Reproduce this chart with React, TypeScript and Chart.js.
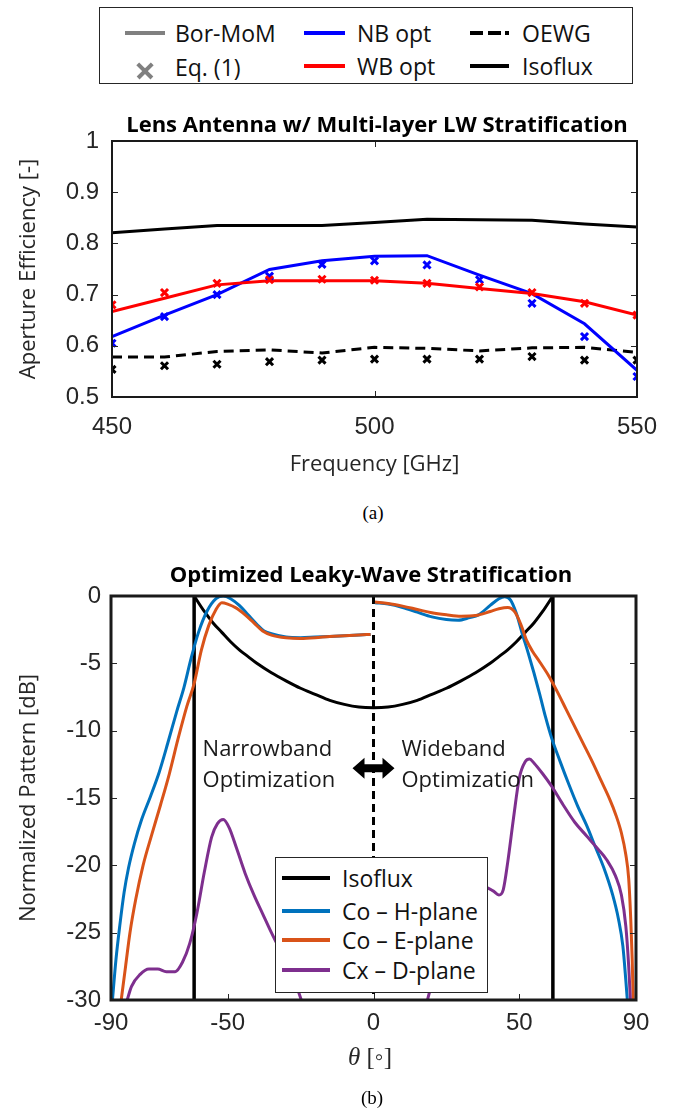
import React, { useEffect, useRef } from "react";
import { Chart, registerables } from "chart.js";

Chart.register(...registerables);

// ---------- (a) Aperture efficiency vs frequency ----------
const freqGHz = [450, 460, 470, 480, 490, 500, 510, 520, 530, 540, 550];
const isofluxEff = [0.821, 0.828, 0.835, 0.835, 0.835, 0.841, 0.847, 0.846, 0.845, 0.838, 0.832];
const oewgEff = [0.578, 0.578, 0.589, 0.592, 0.586, 0.597, 0.595, 0.59, 0.596, 0.597, 0.587];
const oewgEq1 = [0.554, 0.561, 0.564, 0.569, 0.572, 0.574, 0.574, 0.574, 0.579, 0.572, 0.572];
const nbOptEff = [0.618, 0.66, 0.7, 0.749, 0.766, 0.775, 0.776, 0.738, 0.702, 0.643, 0.552];
const nbOptEq1 = [0.605, 0.657, 0.7, 0.736, 0.759, 0.766, 0.758, 0.729, 0.683, 0.618, 0.54];
const wbOptEff = [0.667, 0.693, 0.719, 0.727, 0.727, 0.727, 0.722, 0.712, 0.702, 0.686, 0.66];
const wbOptEq1 = [0.68, 0.704, 0.722, 0.729, 0.73, 0.728, 0.722, 0.715, 0.704, 0.683, 0.66];
const freqTicks = [450, 500, 550];
const effTicks = [0.5, 0.6, 0.7, 0.8, 0.9, 1];

// ---------- (b) Normalized pattern vs theta ----------
const isofluxTheta = [-61.5, -58, -55, -52, -49, -46, -43, -40, -35, -30, -25, -20, -15, -10, -5, 0, 5, 10, 15, 20, 25, 30, 35, 40, 43, 46, 49, 52, 55, 58, 61.5];
const isofluxDb = [0, -1.15, -2.0, -2.7, -3.4, -4.0, -4.5, -5.0, -5.7, -6.3, -6.85, -7.3, -7.75, -8.05, -8.25, -8.3, -8.25, -8.05, -7.75, -7.3, -6.85, -6.3, -5.7, -5.0, -4.5, -4.0, -3.4, -2.7, -2.0, -1.15, 0];
const isofluxEdgeTheta = [-61.5, 61.5];
const centerTheta = [0];

const coHLeftTheta = [-89.5, -88.3, -87, -85.5, -84, -82, -79.5, -76.5, -73.5, -70.5, -67.5, -65, -62.5, -60, -57, -54, -51.5, -49, -46, -43, -40, -37.5, -35, -30, -25, -20, -15, -10, -5, -1];
const coHLeftDb = [-30, -27, -24.5, -22, -20.2, -18.4, -16.6, -14.9, -13.1, -10.9, -8.6, -6.8, -4.6, -2.7, -1.1, -0.2, 0, -0.2, -0.7, -1.4, -2.1, -2.6, -2.8, -3.05, -3.1, -3.05, -3.0, -2.95, -2.9, -2.85];
const coHRightTheta = [0.5, 5, 10, 15, 20, 25, 29, 33, 36, 40, 43, 45, 47, 49, 51, 53, 55, 57, 59, 61, 64, 67, 70, 73, 76, 79, 82, 84, 85.5, 86.5, 87.2];
const coHRightDb = [-0.5, -0.6, -0.85, -1.2, -1.55, -1.75, -1.8, -1.6, -1.4, -0.7, -0.2, -0.05, -0.3, -1.3, -2.8, -4.2, -5.7, -7.3, -9.0, -10.5, -12.3, -14.0, -15.6, -17.0, -18.6, -20.2, -22.2, -24, -26, -28.5, -30.5];

const coELeftTheta = [-86.5, -85, -83.5, -81.5, -79, -76, -73, -70, -67, -64, -61.5, -59, -56.5, -54, -52, -50, -47, -44, -41, -38, -35, -30, -25, -20, -15, -10, -5, -1];
const coELeftDb = [-30, -27.5, -25, -22.5, -20, -17.7, -15.5, -13.2, -10.6, -8.2, -6.5, -4, -2.2, -1.0, -0.5, -0.6, -0.9, -1.4, -2.0, -2.6, -2.9, -3.1, -3.15, -3.1, -3.0, -2.95, -2.9, -2.85];
const coERightTheta = [0.5, 5, 10, 15, 20, 25, 30, 35, 40, 43, 46, 48.5, 50.5, 52.5, 54.5, 57, 60, 63, 66, 69, 72, 75, 78, 81, 83, 85, 86.5, 87.5, 88.2, 88.7, 89.1];
const coERightDb = [-0.45, -0.55, -0.75, -1.0, -1.25, -1.4, -1.5, -1.45, -1.15, -0.95, -0.85, -1.2, -2.1, -3.3, -4.1, -4.9, -5.9, -7.1, -8.4, -9.7, -11.0, -12.3, -13.7, -15.1, -16.2, -17.6, -19.2, -21, -24, -27, -30.5];

const cxLeftTheta = [-84.7, -83, -80, -77, -74, -71, -68, -65.5, -63, -60.5, -58, -55.5, -53.5, -51.5, -49.5, -47, -44, -41, -38, -35, -32, -29, -26.5, -24, -21];
const cxLeftDb = [-30.2, -29, -28.1, -27.7, -27.7, -27.9, -27.9, -27.2, -25.8, -23.5, -20.5, -17.9, -16.9, -16.6, -17.2, -18.7, -20.6, -22.2, -23.6, -25.0, -26.3, -27.6, -28.9, -30.5, -32.5];
const cxRightTheta = [15, 18.5, 21, 24, 27, 30, 34, 38, 41, 43, 44.5, 46, 48, 50, 52, 53.5, 55, 58, 61, 65, 69, 73, 77, 80, 83, 85, 86.5, 87.5, 88.2];
const cxRightDb = [-33, -30, -28, -26.2, -24.6, -23.3, -22.3, -21.6, -21.9, -22.2, -21.8, -19.8, -16.5, -13.5, -12.3, -12.1, -12.4, -13.2, -14.1, -15.5, -16.8, -17.8, -18.8, -19.6, -20.8, -22.2, -24.5, -27.5, -30.5];

const thetaTicks = [-90, -50, 0, 50, 90];
const dbTicks = [-30, -25, -20, -15, -10, -5, 0];

// ---------- helpers ----------
const pts = (xs: number[], ys: number[]) => xs.map((x, i) => ({ x, y: ys[i] }));
const gap = { x: 0, y: null as any };

const TICK_FONT = { family: "Liberation Sans, Arial, sans-serif", size: 24 };
const LABEL_FONT = { family: "Open Sans, sans-serif", size: 22 };
const AX = "#262626";

const makeFramePlugin = (frameWidth: number, xTop: boolean, yRight: boolean) => ({
  id: "frameTicks",
  afterDatasetsDraw(chart: any) {
    const { ctx, chartArea: a, scales } = chart;
    const xs = scales.x;
    const ys = scales.y;
    const L = 6;
    ctx.save();
    ctx.strokeStyle = AX;
    ctx.lineWidth = 1;
    ctx.beginPath();
    xs.ticks.forEach((t: any) => {
      const px = Math.round(xs.getPixelForValue(t.value)) + 0.5;
      ctx.moveTo(px, a.bottom);
      ctx.lineTo(px, a.bottom - L);
      if (xTop) {
        ctx.moveTo(px, a.top);
        ctx.lineTo(px, a.top + L);
      }
    });
    ys.ticks.forEach((t: any) => {
      const py = Math.round(ys.getPixelForValue(t.value)) + 0.5;
      ctx.moveTo(a.left, py);
      ctx.lineTo(a.left + L, py);
      if (yRight) {
        ctx.moveTo(a.right, py);
        ctx.lineTo(a.right - L, py);
      }
    });
    ctx.stroke();
    ctx.lineWidth = frameWidth;
    ctx.strokeStyle = "#1a1a1a";
    ctx.strokeRect(a.left, a.top, a.right - a.left, a.bottom - a.top);
    ctx.restore();
  },
});

const annotationPlugin = {
  id: "bandNotes",
  afterDatasetsDraw(chart: any) {
    const { ctx, scales } = chart;
    const xs = scales.x;
    const ys = scales.y;
    ctx.save();
    ctx.fillStyle = "#1a1a1a";
    ctx.font = "22px 'Open Sans', sans-serif";
    ctx.textBaseline = "middle";
    ctx.textAlign = "left";
    const y1 = ys.getPixelForValue(-11.4);
    const y2 = ys.getPixelForValue(-13.7);
    const xl = xs.getPixelForValue(-58.6);
    const xr = xs.getPixelForValue(9.6);
    ctx.fillText("Narrowband", xl, y1);
    ctx.fillText("Optimization", xl, y2);
    ctx.fillText("Wideband", xr, y1);
    ctx.fillText("Optimization", xr, y2);
    // double arrow
    const cx = xs.getPixelForValue(0);
    const cy = ys.getPixelForValue(-12.8);
    const w = 42, h = 21, shaft = 8, head = 12;
    ctx.fillStyle = "#000";
    ctx.beginPath();
    ctx.moveTo(cx - w / 2, cy);
    ctx.lineTo(cx - w / 2 + head, cy - h / 2);
    ctx.lineTo(cx - w / 2 + head, cy - shaft / 2);
    ctx.lineTo(cx + w / 2 - head, cy - shaft / 2);
    ctx.lineTo(cx + w / 2 - head, cy - h / 2);
    ctx.lineTo(cx + w / 2, cy);
    ctx.lineTo(cx + w / 2 - head, cy + h / 2);
    ctx.lineTo(cx + w / 2 - head, cy + shaft / 2);
    ctx.lineTo(cx - w / 2 + head, cy + shaft / 2);
    ctx.lineTo(cx - w / 2 + head, cy + h / 2);
    ctx.closePath();
    ctx.fill();
    ctx.restore();
  },
};

const lineDs = (label: string, data: any[], color: string, extra: any = {}) => ({
  label,
  data,
  borderColor: color,
  backgroundColor: color,
  borderWidth: 3,
  pointRadius: 0,
  fill: false,
  tension: 0,
  spanGaps: false,
  ...extra,
});

const markerDs = (label: string, ys: number[], color: string) => ({
  label,
  data: pts(freqGHz, ys),
  showLine: false,
  pointStyle: "crossRot",
  pointRadius: 5,
  pointBorderWidth: 3,
  borderColor: color,
  backgroundColor: color,
});

const fixY = (w: number) => (s: any) => {
  s.width = w;
  s.paddingTop = 0;
  s.paddingBottom = 0;
};
const fixX = (h: number) => (s: any) => {
  s.height = h;
  s.paddingLeft = 0;
  s.paddingRight = 0;
};

export default function App() {
  const c1 = useRef<HTMLCanvasElement>(null);
  const c2 = useRef<HTMLCanvasElement>(null);

  useEffect(() => {
    document.body.style.margin = "0";

    const ch1 = new Chart(c1.current as HTMLCanvasElement, {
      type: "line",
      data: {
        datasets: [
          markerDs("WB Eq. (1)", wbOptEq1, "#ff0000"),
          markerDs("NB Eq. (1)", nbOptEq1, "#0000ff"),
          markerDs("OEWG Eq. (1)", oewgEq1, "#000000"),
          lineDs("WB opt", pts(freqGHz, wbOptEff), "#ff0000"),
          lineDs("NB opt", pts(freqGHz, nbOptEff), "#0000ff"),
          lineDs("OEWG", pts(freqGHz, oewgEff), "#000000", { borderDash: [10, 6] }),
          lineDs("Isoflux", pts(freqGHz, isofluxEff), "#000000"),
        ] as any,
      },
      options: {
        animation: false,
        responsive: false,
        layout: { padding: { top: 10, right: 42, left: 0, bottom: 0 } },
        plugins: { legend: { display: false }, tooltip: { enabled: false } },
        scales: {
          x: {
            type: "linear",
            min: 450,
            max: 550,
            afterBuildTicks: (s: any) => {
              s.ticks = freqTicks.map((v) => ({ value: v }));
            },
            afterFit: fixX(84),
            grid: { display: false, drawTicks: false },
            border: { display: false },
            ticks: { font: TICK_FONT, color: AX, padding: 16, maxRotation: 0, autoSkip: false, callback: (v: any) => String(v) },
            title: { display: true, text: "Frequency [GHz]", font: LABEL_FONT, color: AX, padding: { top: 0, bottom: 3 } },
          },
          y: {
            type: "linear",
            min: 0.5,
            max: 1,
            afterBuildTicks: (s: any) => {
              s.ticks = effTicks.map((v) => ({ value: v }));
            },
            afterFit: fixY(112),
            grid: { display: false, drawTicks: false },
            border: { display: false },
            ticks: { font: TICK_FONT, color: AX, padding: 13, autoSkip: false, callback: (v: any) => String(Math.round(v * 10) / 10) },
            title: { display: true, text: "Aperture Efficiency [-]", font: LABEL_FONT, color: AX, padding: { top: 16, bottom: 0 } },
          },
        },
      } as any,
      plugins: [makeFramePlugin(2, true, true)],
    });

    const ch2 = new Chart(c2.current as HTMLCanvasElement, {
      type: "line",
      data: {
        datasets: [
          lineDs("Cx – D-plane", [...pts(cxLeftTheta, cxLeftDb), gap, ...pts(cxRightTheta, cxRightDb)], "#7E2F8E", { cubicInterpolationMode: "monotone" }),
          lineDs("Co – E-plane", [...pts(coELeftTheta, coELeftDb), gap, ...pts(coERightTheta, coERightDb)], "#D95319", { cubicInterpolationMode: "monotone" }),
          lineDs("Co – H-plane", [...pts(coHLeftTheta, coHLeftDb), gap, ...pts(coHRightTheta, coHRightDb)], "#0072BD", { cubicInterpolationMode: "monotone" }),
          lineDs("Isoflux", pts(isofluxTheta, isofluxDb), "#000000", { cubicInterpolationMode: "monotone" }),
          lineDs(
            "Isoflux edges",
            [
              { x: isofluxEdgeTheta[0], y: dbTicks[0] },
              { x: isofluxEdgeTheta[0], y: dbTicks[dbTicks.length - 1] },
              gap,
              { x: isofluxEdgeTheta[1], y: dbTicks[dbTicks.length - 1] },
              { x: isofluxEdgeTheta[1], y: dbTicks[0] },
            ],
            "#000000",
            { borderWidth: 3.5 }
          ),
          lineDs(
            "Center",
            [
              { x: centerTheta[0], y: dbTicks[dbTicks.length - 1] },
              { x: centerTheta[0], y: dbTicks[0] },
            ],
            "#000000",
            { borderDash: [8, 5], borderWidth: 3 }
          ),
        ] as any,
      },
      options: {
        animation: false,
        responsive: false,
        layout: { padding: { top: 10, right: 43, left: 0, bottom: 0 } },
        plugins: { legend: { display: false }, tooltip: { enabled: false } },
        scales: {
          x: {
            type: "linear",
            min: -90,
            max: 90,
            afterBuildTicks: (s: any) => {
              s.ticks = thetaTicks.map((v) => ({ value: v }));
            },
            afterFit: fixX(80),
            grid: { display: false, drawTicks: false },
            border: { display: false },
            ticks: { font: TICK_FONT, color: AX, padding: 9, maxRotation: 0, autoSkip: false, callback: (v: any) => String(v) },
            title: { display: false },
          },
          y: {
            type: "linear",
            min: -30,
            max: 0,
            afterBuildTicks: (s: any) => {
              s.ticks = dbTicks.map((v) => ({ value: v }));
            },
            afterFit: fixY(111),
            grid: { display: false, drawTicks: false },
            border: { display: false },
            ticks: { font: TICK_FONT, color: AX, padding: 10, autoSkip: false, callback: (v: any) => String(v) },
            title: { display: true, text: "Normalized Pattern [dB]", font: LABEL_FONT, color: AX, padding: { top: 16, bottom: 0 } },
          },
        },
      } as any,
      plugins: [makeFramePlugin(3, false, true), annotationPlugin],
    });

    return () => {
      ch1.destroy();
      ch2.destroy();
    };
  }, []);

  const abs = (left: number, top: number, extra: any = {}): React.CSSProperties => ({
    position: "absolute",
    left,
    top,
    ...extra,
  });
  const textAt = (left: number, cy: number, text: string, size = 23) => (
    <div
      style={abs(left, cy, {
        transform: "translateY(-50%)",
        fontFamily: "'Open Sans', sans-serif",
        fontSize: size,
        lineHeight: 1,
        color: "#111",
        whiteSpace: "nowrap",
      })}
    >
      {text}
    </div>
  );
  const swatch = (left: number, cy: number, width: number, color: string, h = 4) => (
    <div style={abs(left, cy - h / 2, { width, height: h, background: color })} />
  );
  const centered = (cx: number, cy: number, content: any, style: any) => (
    <div style={abs(cx, cy, { transform: "translate(-50%, -50%)", whiteSpace: "nowrap", lineHeight: 1, ...style })}>{content}</div>
  );

  return (
    <div style={{ position: "relative", width: 679, height: 1108, background: "#fff", overflow: "hidden" }}>
      <canvas ref={c1} width={679} height={350} style={abs(0, 131, { width: 679, height: 350 })} />
      <canvas ref={c2} width={679} height={494} style={abs(0, 586, { width: 679, height: 494 })} />

      {/* top legend */}
      <div style={abs(99, 7, { width: 534, height: 77, border: "1.5px solid #262626", boxSizing: "border-box", background: "#fff" })} />
      {swatch(125, 33, 40, "#808080")}
      <div style={abs(137, 63, { width: 16, height: 16 })}>
        <div style={abs(-2, 6, { width: 20, height: 3.5, background: "#808080", transform: "rotate(45deg)" })} />
        <div style={abs(-2, 6, { width: 20, height: 3.5, background: "#808080", transform: "rotate(-45deg)" })} />
      </div>
      {textAt(175, 33, "Bor-MoM")}
      {textAt(175, 67, "Eq. (1)")}
      {swatch(304, 33, 41, "#0000ff")}
      {swatch(304, 66, 41, "#ff0000")}
      {textAt(357, 33, "NB opt")}
      {textAt(357, 66, "WB opt")}
      {swatch(470, 33, 13, "#000")}
      {swatch(488, 33, 13, "#000")}
      {swatch(505, 33, 4, "#000")}
      {swatch(470, 66, 39, "#000")}
      {textAt(522, 33, "OEWG")}
      {textAt(522, 66, "Isoflux")}

      {/* titles */}
      {centered(377, 123, "Lens Antenna w/ Multi-layer LW Stratification", {
        fontFamily: "'Open Sans', sans-serif",
        fontWeight: 700,
        fontSize: 22,
        color: "#000",
      })}
      {centered(371, 573, "Optimized Leaky-Wave Stratification", {
        fontFamily: "'Open Sans', sans-serif",
        fontWeight: 700,
        fontSize: 22,
        color: "#000",
      })}
      {centered(373, 512, "(a)", { fontFamily: "'Liberation Serif', serif", fontSize: 19, color: "#000" })}
      {centered(
        370,
        1056,
        <span>
          <i>θ</i> [◦]
        </span>,
        { fontFamily: "'Liberation Serif', serif", fontSize: 25, color: "#262626" }
      )}
      {centered(372, 1097, "(b)", { fontFamily: "'Liberation Serif', serif", fontSize: 19, color: "#000" })}

      {/* bottom legend */}
      <div style={abs(275, 857, { width: 213, height: 136, border: "1.5px solid #262626", boxSizing: "border-box", background: "#fff" })} />
      {swatch(282, 878, 48, "#000")}
      {swatch(282, 911, 48, "#0072BD")}
      {swatch(282, 940, 48, "#D95319")}
      {swatch(282, 970, 48, "#7E2F8E")}
      {textAt(342, 878, "Isoflux")}
      {textAt(342, 911, "Co – H-plane")}
      {textAt(342, 940, "Co – E-plane")}
      {textAt(342, 970, "Cx – D-plane")}
    </div>
  );
}
